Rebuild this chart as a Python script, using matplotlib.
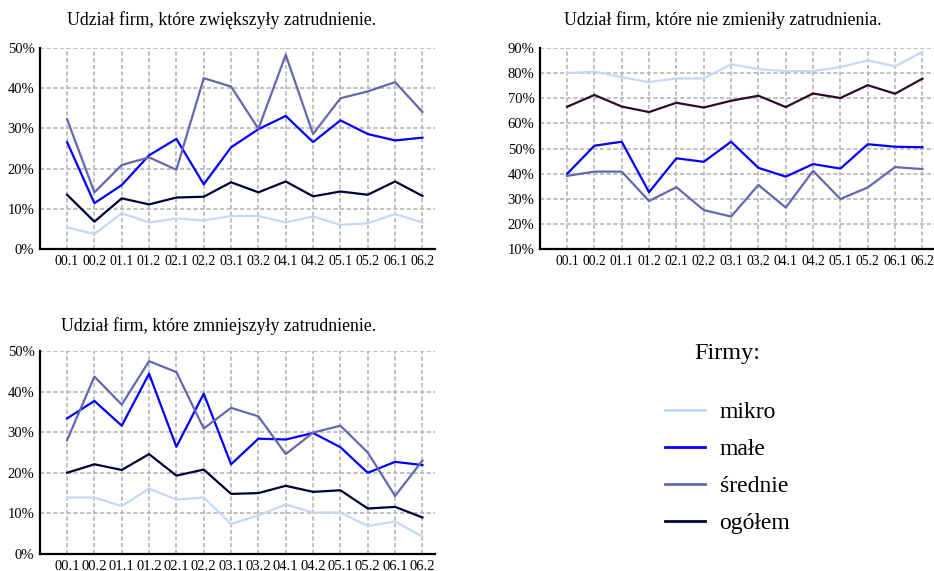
import matplotlib
matplotlib.use("Agg")
import matplotlib.pyplot as plt
from matplotlib.lines import Line2D
import numpy as np

plt.rcParams["font.family"] = ["Liberation Serif", "DejaVu Serif"]

periods = ["00.1", "00.2", "01.1", "01.2", "02.1", "02.2", "03.1",
           "03.2", "04.1", "04.2", "05.1", "05.2", "06.1", "06.2"]

# udzial firm, ktore zwiekszyly zatrudnienie (%)
up_mikro = [5.4, 3.7, 8.9, 6.6, 7.6, 7.1, 8.2, 8.2, 6.6, 8.1, 6.0, 6.4, 8.7, 6.6]
up_male = [26.6, 11.4, 15.9, 23.3, 27.4, 16.1, 25.3, 29.8, 33.1, 26.6, 32.0, 28.6, 27.0, 27.7]
up_srednie = [32.3, 14.1, 20.9, 22.8, 19.7, 42.5, 40.4, 29.9, 48.3, 28.6, 37.5, 39.2, 41.5, 34.1]
up_ogolem = [13.5, 6.8, 12.6, 11.1, 12.8, 13.0, 16.6, 14.1, 16.8, 13.1, 14.3, 13.5, 16.8, 13.2]

# nie zmienily zatrudnienia
same_mikro = [80.0, 80.6, 78.4, 76.4, 77.9, 77.9, 83.5, 81.6, 80.8, 80.8, 82.4, 85.1, 82.7, 88.5]
same_male = [39.9, 51.1, 52.7, 32.6, 46.1, 44.7, 52.7, 42.3, 38.8, 43.8, 42.0, 51.7, 50.7, 50.5]
same_srednie = [39.1, 40.8, 40.8, 29.1, 34.6, 25.5, 22.9, 35.5, 26.5, 41.1, 29.9, 34.5, 42.6, 41.8]
same_ogolem = [66.6, 71.3, 66.7, 64.5, 68.2, 66.3, 69.0, 71.0, 66.5, 71.9, 70.1, 75.2, 71.8, 77.8]

# zmniejszyly zatrudnienie
down_mikro = [13.9, 13.9, 11.8, 16.1, 13.4, 13.9, 7.4, 9.5, 12.2, 10.2, 10.2, 6.9, 8.0, 4.3]
down_male = [33.4, 37.7, 31.6, 44.4, 26.4, 39.5, 22.1, 28.4, 28.2, 29.8, 26.3, 20.0, 22.7, 21.9]
down_srednie = [28.0, 43.7, 36.8, 47.5, 44.8, 30.9, 36.0, 33.9, 24.6, 29.9, 31.6, 25.0, 14.3, 23.0]
down_ogolem = [20.0, 22.1, 20.7, 24.6, 19.3, 20.8, 14.8, 15.0, 16.8, 15.3, 15.7, 11.2, 11.6, 9.0]

names = ["mikro", "małe", "średnie", "ogółem"]
colors = ["#c4d9f5", "#0000ff", "#6666b0", "#000038"]

fig = plt.figure(figsize=(9.34, 5.71), dpi=100)

def panel(rect, series, ylo, yhi, title, tx, ty, dark=None, xfs=10):
    ax = fig.add_axes(rect)
    x = np.arange(len(periods))
    for i, s in enumerate(series):
        c = colors[i]
        if i == 3 and dark:
            c = dark
        ax.plot(x, s, color=c, lw=1.6, zorder=3)
    ax.set_xlim(-0.99, 13.46)
    ax.set_ylim(ylo, yhi)
    ax.set_xticks(x)
    ax.set_xticklabels(periods, fontsize=xfs)
    yt = np.arange(ylo, yhi + 1, 10)
    ax.set_yticks(yt)
    ax.set_yticklabels([f"{v}%" for v in yt], fontsize=10.5)
    ax.tick_params(length=0, pad=4)
    ax.grid(True, color="#b5b5b5", lw=1.2, linestyle=(0, (2.5, 1.5)))
    for sp in ["top", "right"]:
        ax.spines[sp].set_visible(False)
    for sp in ["left", "bottom"]:
        ax.spines[sp].set_linewidth(1.6)
        ax.spines[sp].set_color("black")
    ax.set_axisbelow(True)
    fig.text(tx, ty, title, fontsize=12.8, va="center", ha="left")
    return ax

panel([40/934, 1 - 249/571, 395/934, 201/571],
      [up_mikro, up_male, up_srednie, up_ogolem], 0, 50,
      "Udział firm, które zwiększyły zatrudnienie.", 67/934, 1 - 20/571)
panel([540/934, 1 - 249/571, 395/934, 201/571],
      [same_mikro, same_male, same_srednie, same_ogolem], 10, 90,
      "Udział firm, które nie zmieniły zatrudnienia.", 564/934, 1 - 20/571,
      dark="#2e0a2e", xfs=9.8)
panel([40/934, 1 - 554/571, 395/934, 203/571],
      [down_mikro, down_male, down_srednie, down_ogolem], 0, 50,
      "Udział firm, które zmniejszyły zatrudnienie.", 61/934, 1 - 326/571,
      xfs=10.5)

handles = [Line2D([], [], color=c, lw=2) for c in colors]
leg = fig.legend(handles, names, loc="upper left",
                 bbox_to_anchor=(644/934, 1 - 322/571), frameon=False,
                 title="Firmy:", fontsize=17, title_fontsize=17.5,
                 handlelength=1.7, handletextpad=0.6, labelspacing=0.65)
leg._legend_box.sep = 27

fig.savefig("out.png", dpi=100)
